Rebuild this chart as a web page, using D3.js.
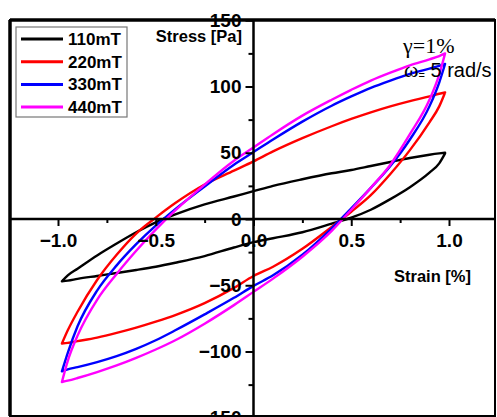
<!DOCTYPE html>
<html>
<head>
<meta charset="utf-8">
<script src="https://cdn.jsdelivr.net/npm/d3@7"></script>
<style>
  body { margin: 0; background: #fff; }
  text { font-family: "Liberation Sans", Arial, sans-serif; }
</style>
</head>
<body>
<div id="chart"></div>
<script>
// strain grid shared by every branch (tip to tip)
const strain = [-0.98, -0.95, -0.9, -0.8, -0.7, -0.6, -0.5, -0.4, -0.25, -0.1, 0,
                0.1, 0.25, 0.4, 0.5, 0.6, 0.7, 0.8, 0.9, 0.95, 0.98];

// stress [Pa], upper branch and lower branch of each loop
const upper110 = [-47, -42.5, -37.5, -27.5, -18.5, -10, -2.5, 3.5, 11, 17, 21, 25, 30, 34.5, 37, 40, 43, 46, 48.5, 49.5, 50];
const lower110 = [-47, -46.5, -45.2, -43, -40.8, -38.5, -36, -33, -28, -21.5, -17.5, -14.5, -10, -3.5, 1, 7, 15, 24, 35, 42, 49.5];
const upper220 = [-94, -84, -70, -46, -27, -11, 1, 12, 26, 36.5, 43.5, 51, 61, 70, 75.5, 80.5, 85, 89, 92.5, 94.5, 95.5];
const lower220 = [-94, -93.5, -92.2, -89.5, -86, -82, -77.5, -72.5, -63.5, -52, -43, -36, -22.5, -6, 5.5, 18, 34, 52, 73, 85, 95.5];
const upper330 = [-115, -101, -81, -54, -35, -19, -5, 7.5, 24.5, 41, 50.5, 60, 73.5, 85.5, 92.5, 99, 104.5, 109.5, 113.5, 115.5, 117];
const lower330 = [-115, -113.5, -111.8, -108, -103.5, -98, -91.5, -84, -72, -59.5, -50.5, -42.5, -27, -7, 8, 23.5, 40, 60, 85, 103, 117];
const upper440 = [-123, -107, -88, -61, -41.5, -24, -8, 6.5, 26, 44, 54, 64, 78, 90, 97.5, 104.5, 110.5, 116, 120.5, 123, 125];
const lower440 = [-123, -122, -120, -115.5, -110.5, -104.8, -98.5, -91.5, -79, -65, -55, -45, -28.5, -9, 7, 23.5, 41, 64, 90, 109, 125];

const fields = ["110mT", "220mT", "330mT", "440mT"];
const colors = ["#000000", "#ff0000", "#0000ff", "#ff00ff"];
const uppers = [upper110, upper220, upper330, upper440];
const lowers = [lower110, lower220, lower330, lower440];

const xMajor = [-1, -0.5, 0, 0.5, 1];
const xMinor = [-0.75, -0.25, 0.25, 0.75];
const yMajor = [-150, -100, -50, 0, 50, 100, 150];
const yMinor = [-125, -75, -25, 25, 75, 125];

let width = 497, height = 417;
let frame = {left: 10, top: 20, right: 495, bottom: 416};

let x = d3.scaleLinear().domain([-1, 1]).range([58, 449]);
let y = d3.scaleLinear().domain([-100, 100]).range([351.5, 86.5]);

let svg = d3.select("#chart")
    .append("svg")
    .attr("width", width)
    .attr("height", height);

// loops
let line = d3.line()
    .x(d => x(d[0]))
    .y(d => y(d[1]))
    .curve(d3.curveMonotoneX);

let series = fields.map((f, i) => ({
    name: f,
    color: colors[i],
    upper: strain.map((s, j) => [s, uppers[i][j]]),
    lower: strain.map((s, j) => [s, lowers[i][j]])
}));

svg.append("g")
    .selectAll("path")
    .data(series)
    .enter().append("path")
    .attr("d", d => line(d.upper) + line(d.lower))
    .attr("fill", "none")
    .attr("stroke", d => d.color)
    .attr("stroke-width", 2.4)
    .attr("stroke-linejoin", "round")
    .attr("stroke-linecap", "round");

// axes crossing at the origin
let yAxis = svg.append("g")
    .attr("transform", `translate(${x(0)},0)`);

yAxis.call(d3.axisLeft(y).tickValues(yMinor).tickSize(5).tickSizeOuter(0).tickFormat(""));
yAxis.append("g")
    .call(d3.axisLeft(y).tickValues(yMajor).tickSize(8).tickSizeOuter(0).tickPadding(4).tickFormat(d3.format("d")));
yAxis.selectAll(".domain").remove();
yAxis.append("line")
    .attr("y1", frame.top).attr("y2", frame.bottom)
    .attr("stroke", "#000").attr("stroke-width", 2.5);

let xAxis = svg.append("g")
    .attr("transform", `translate(0,${y(0)})`);

xAxis.call(d3.axisBottom(x).tickValues(xMinor).tickSize(4).tickSizeOuter(0).tickFormat(""));
xAxis.append("g")
    .call(d3.axisBottom(x).tickValues(xMajor).tickSize(7).tickSizeOuter(0).tickPadding(8).tickFormat(d3.format(".1f")));
xAxis.selectAll(".domain").remove();
xAxis.append("line")
    .attr("x1", frame.left).attr("x2", frame.right)
    .attr("stroke", "#000").attr("stroke-width", 2.5);

svg.selectAll(".tick line").attr("stroke", "#000").attr("stroke-width", 2);
svg.selectAll(".tick text")
    .attr("fill", "#000")
    .style("font-size", "19px")
    .style("font-weight", "bold")
    .style("font-family", "'Liberation Sans', Arial, sans-serif");

// axis titles
svg.append("text")
    .attr("x", 242).attr("y", 42)
    .attr("text-anchor", "end")
    .style("font-size", "16.5px").style("font-weight", "bold")
    .text("Stress [Pa]");

svg.append("text")
    .attr("x", 471).attr("y", 282)
    .attr("text-anchor", "end")
    .style("font-size", "16.5px").style("font-weight", "bold")
    .text("Strain [%]");

// test conditions
svg.append("text")
    .attr("x", 403).attr("y", 53)
    .style("font-family", "'Liberation Serif', 'Times New Roman', serif")
    .style("font-size", "22px")
    .text("γ=1%");

let omega = svg.append("text")
    .attr("x", 404).attr("y", 77)
    .style("font-size", "20px");
omega.append("tspan")
    .style("font-family", "'Liberation Serif', 'Times New Roman', serif")
    .style("font-size", "22px")
    .text("ω");
omega.append("tspan")
    .attr("dy", 2)
    .style("font-size", "11px")
    .text("=");
omega.append("tspan")
    .attr("dy", -2)
    .text(" 5 rad/s");

// frame
svg.append("rect")
    .attr("x", frame.left).attr("y", frame.top)
    .attr("width", frame.right - frame.left)
    .attr("height", frame.bottom - frame.top)
    .attr("fill", "none")
    .attr("stroke", "#000")
    .attr("stroke-width", 2);
svg.append("line")
    .attr("x1", frame.left).attr("x2", frame.right)
    .attr("y1", frame.top).attr("y2", frame.top)
    .attr("stroke", "#000").attr("stroke-width", 3.5);
svg.append("line")
    .attr("x1", frame.left).attr("x2", frame.left)
    .attr("y1", frame.top).attr("y2", frame.bottom)
    .attr("stroke", "#000").attr("stroke-width", 3.5);

// legend
let legend = svg.append("g");
legend.append("rect")
    .attr("x", 16).attr("y", 27)
    .attr("width", 111).attr("height", 90)
    .attr("fill", "#fff")
    .attr("stroke", "#777")
    .attr("stroke-width", 1.2);

let entry = legend.selectAll("g")
    .data(series)
    .enter().append("g")
    .attr("transform", (d, i) => `translate(0,${39 + i * 22.7})`);

entry.append("line")
    .attr("x1", 21).attr("x2", 63)
    .attr("stroke", d => d.color)
    .attr("stroke-width", 3);

entry.append("text")
    .attr("x", 68).attr("y", 6)
    .style("font-size", "17px").style("font-weight", "bold")
    .text(d => d.name);
</script>
</body>
</html>
